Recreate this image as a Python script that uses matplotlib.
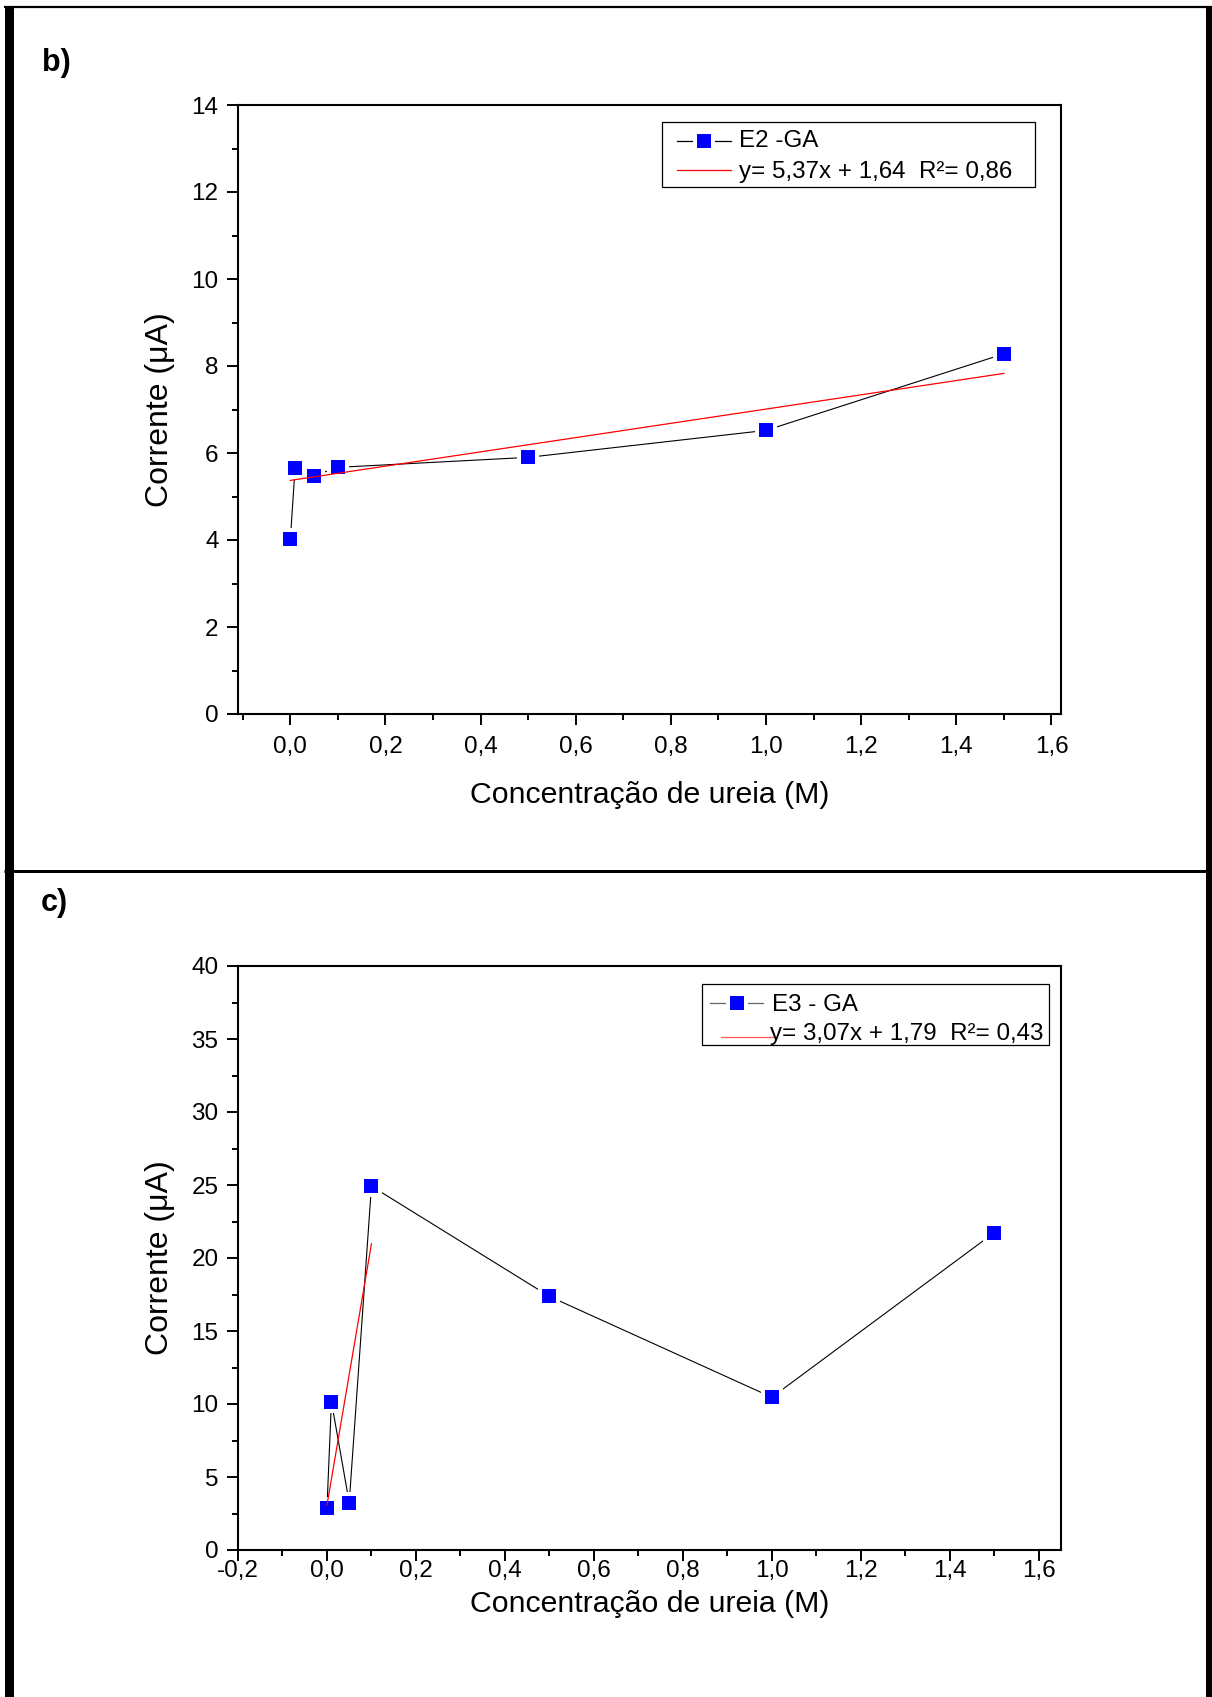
import matplotlib
matplotlib.use("Agg")
import matplotlib.pyplot as plt
from matplotlib.lines import Line2D
from matplotlib.patches import Rectangle
from matplotlib.ticker import FixedLocator, FuncFormatter

plt.rcParams['font.family'] = ['Liberation Sans', 'DejaVu Sans']

# ---- data ----
conc = [0.0, 0.01, 0.05, 0.1, 0.5, 1.0, 1.5]

e2_current = [4.02, 5.65, 5.48, 5.67, 5.90, 6.52, 8.28]
e2_fit_intercept = 5.37
e2_fit_slope = 1.64
e2_fit_x = [0.0, 1.5]
e2_label = "E2 -GA"
e2_fit_label = "y= 5,37x + 1,64  R\u00b2= 0,86"

e3_current = [2.9, 10.17, 3.25, 24.92, 17.37, 10.46, 21.74]
e3_fit_intercept = 3.07
e3_fit_slope = 179.0
e3_fit_x = [0.0, 0.1]
e3_label = "E3 - GA"
e3_fit_label = "y= 3,07x + 1,79  R\u00b2= 0,43"

b_xticks = [0.0, 0.2, 0.4, 0.6, 0.8, 1.0, 1.2, 1.4, 1.6]
b_xminor = [-0.1, 0.1, 0.3, 0.5, 0.7, 0.9, 1.1, 1.3, 1.5]
b_yticks = [0, 2, 4, 6, 8, 10, 12, 14]
b_yminor = [1, 3, 5, 7, 9, 11, 13]

c_xticks = [-0.2, 0.0, 0.2, 0.4, 0.6, 0.8, 1.0, 1.2, 1.4, 1.6]
c_xminor = [-0.1, 0.1, 0.3, 0.5, 0.7, 0.9, 1.1, 1.3, 1.5]
c_yticks = [0, 5, 10, 15, 20, 25, 30, 35, 40]
c_yminor = [2.5, 7.5, 12.5, 17.5, 22.5, 27.5, 32.5, 37.5]

xlabel = "Concentra\u00e7\u00e3o de ureia (M)"
ylabel = "Corrente (\u03bcA)"

TICK_FS = 17.5
LEG_FS = 17.4
XLABEL_FS = 21.8
YLABEL_FS = 23.0
MS = 13.2
MEW = 2.9

W, H = 1212, 1697
fig = plt.figure(figsize=(W / 100, H / 100), dpi=100)


def fx(px):
    return px / W


def fy(py):
    return 1 - py / H


def comma_fmt(v, pos=None):
    s = f"{v:.1f}".replace('.', ',')
    return "0,0" if s == "-0,0" else s


def int_fmt(v, pos=None):
    return f"{v:g}"


def make_axes(top, bottom, xlim, ylim, xt, xm, yt, ym):
    ax = fig.add_axes([fx(238), fy(bottom), fx(1061) - fx(238), fy(top) - fy(bottom)])
    ax.set_xlim(*xlim)
    ax.set_ylim(*ylim)
    for s in ax.spines.values():
        s.set_linewidth(1.5)
    ax.xaxis.set_major_locator(FixedLocator(xt))
    ax.xaxis.set_minor_locator(FixedLocator(xm))
    ax.yaxis.set_major_locator(FixedLocator(yt))
    ax.yaxis.set_minor_locator(FixedLocator(ym))
    ax.xaxis.set_major_formatter(FuncFormatter(comma_fmt))
    ax.yaxis.set_major_formatter(FuncFormatter(int_fmt))
    ax.tick_params(which='both', direction='out', top=False, right=False,
                   width=1.4, labelsize=TICK_FS)
    ax.tick_params(which='major', length=8)
    ax.tick_params(which='minor', length=4.3)
    ax.tick_params(axis='y', pad=6)
    return ax


def plot_series(ax, y, fit_x, a, b):
    # connecting line, then markers with a white rim that leaves a gap in the line
    ax.plot(conc, y, color='black', lw=0.8, zorder=2)
    ax.plot(conc, y, ls='none', marker='s', markersize=MS,
            markerfacecolor='#0000ff', markeredgecolor='white',
            markeredgewidth=MEW, zorder=3)
    fit_y = [a + b * x for x in fit_x]
    ax.plot(fit_x, fit_y, color='red', lw=0.9, zorder=4)


def legend_box(x0, y0, x1, y1):
    fig.add_artist(Rectangle((fx(x0), fy(y1)), fx(x1) - fx(x0), fy(y0) - fy(y1),
                             transform=fig.transFigure, fill=False,
                             edgecolor='black', lw=0.9, zorder=10))


def legend_line(x0, x1, y, color, marker=False):
    fig.add_artist(Line2D([fx(x0), fx(x1)], [fy(y), fy(y)], transform=fig.transFigure,
                          color=color, lw=0.9, zorder=11))
    if marker:
        xm = (x0 + x1) / 2
        fig.add_artist(Line2D([fx(xm)], [fy(y)], transform=fig.transFigure,
                              ls='none', marker='s', markersize=MS,
                              markerfacecolor='#0000ff', markeredgecolor='white',
                              markeredgewidth=MEW, zorder=12))


def legend_text(x, y, s):
    fig.text(fx(x), fy(y), s, fontsize=LEG_FS, ha='left', va='baseline', zorder=13)


# ---- panel b ----
ax_b = make_axes(105, 714, (-0.11, 1.62), (0, 14), b_xticks, b_xminor, b_yticks, b_yminor)
ax_b.tick_params(axis='x', pad=8)
plot_series(ax_b, e2_current, e2_fit_x, e2_fit_intercept, e2_fit_slope)
ax_b.set_xlabel(xlabel, fontsize=XLABEL_FS, va='center')
ax_b.xaxis.set_label_coords(0.5, -(795 - 714) / 609)
ax_b.set_ylabel(ylabel, fontsize=YLABEL_FS, va='center')
ax_b.yaxis.set_label_coords((160 - 238) / 823, 0.5)

legend_box(662, 122, 1035, 187)
legend_line(677, 731, 141, 'black', marker=True)
legend_text(739, 147, e2_label)
legend_line(677, 731, 170, 'red')
legend_text(739, 178, e2_fit_label)

# ---- panel c ----
ax_c = make_axes(966, 1550, (-0.2, 1.65), (0, 40), c_xticks, c_xminor, c_yticks, c_yminor)
ax_c.tick_params(axis='x', pad=-0.5)
plot_series(ax_c, e3_current, e3_fit_x, e3_fit_intercept, e3_fit_slope)
ax_c.set_xlabel(xlabel, fontsize=XLABEL_FS, va='center')
ax_c.xaxis.set_label_coords(0.5, -(1604 - 1550) / 584)
ax_c.set_ylabel(ylabel, fontsize=YLABEL_FS, va='center')
ax_c.yaxis.set_label_coords((160 - 238) / 823, 0.5)

legend_box(702, 984, 1049, 1045)
legend_line(710, 763, 1003, '#666666', marker=True)
legend_text(772, 1011, e3_label)
legend_line(721, 773, 1037, '#ff5555')
legend_text(770, 1040, e3_fit_label)

# ---- panel letters ----
fig.text(fx(42), fy(71), "b)", fontsize=22, fontweight='bold', ha='left', va='baseline')
fig.text(fx(41), fy(911), "c)", fontsize=22, fontweight='bold', ha='left', va='baseline')


# ---- page frame ----
def frame_line(xs, ys, width_px):
    fig.add_artist(Line2D([fx(x) for x in xs], [fy(y) for y in ys],
                          transform=fig.transFigure, color='black',
                          lw=width_px * 0.72, solid_capstyle='butt', zorder=20))


frame_line([8.5, 8.5], [6, H], 9)
frame_line([1209, 1209], [6, H], 6)
frame_line([4, W], [7, 7], 2.2)
frame_line([4, W], [871, 871], 3)

fig.savefig("out.png", dpi=100)
